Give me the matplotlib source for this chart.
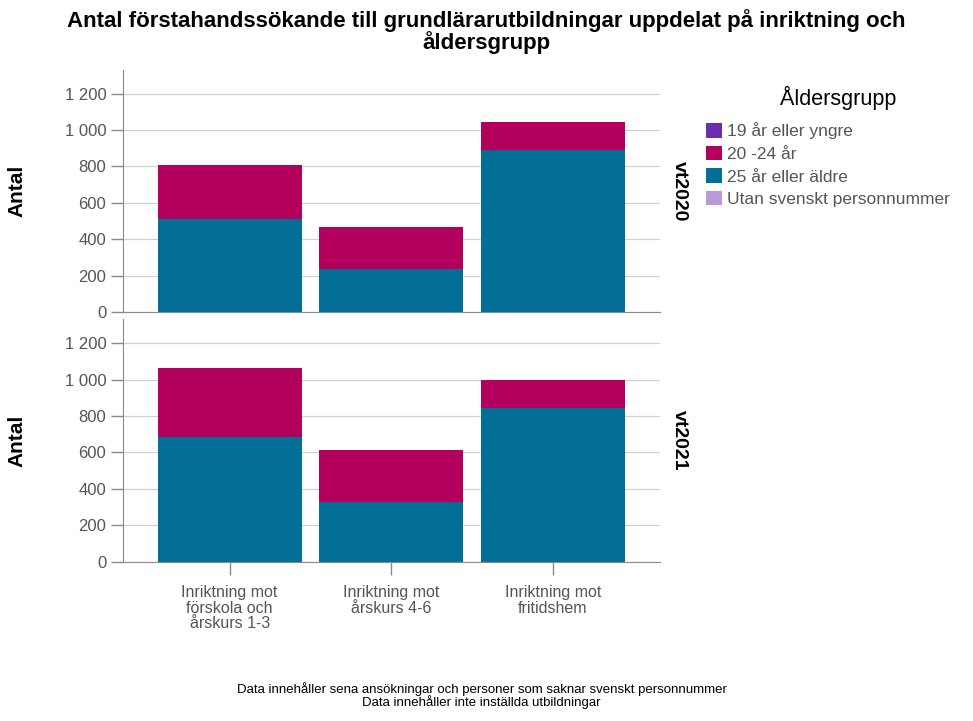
import matplotlib.pyplot as plt
from matplotlib.patches import Patch

plt.rcParams['font.family'] = ['Liberation Sans', 'DejaVu Sans']

categories = ["Inriktning mot\nförskola och\nårskurs 1-3",
              "Inriktning mot\nårskurs 4-6",
              "Inriktning mot\nfritidshem"]
terms = ["vt2020", "vt2021"]
# 25 år eller äldre (bottom) and 20-24 år (top) per term
aldre_25 = {"vt2020": [513, 235, 890], "vt2021": [685, 328, 843]}
yngre_20_24 = {"vt2020": [294, 235, 153], "vt2021": [378, 283, 153]}
legend_labels = ["19 år eller yngre", "20 -24 år", "25 år eller äldre",
                 "Utan svenskt personnummer"]
legend_colors = ["#6a2fb0", "#b3005c", "#036e96", "#b89ad6"]
yticks = [0, 200, 400, 600, 800, 1000, 1200]
ytick_labels = ["0", "200", "400", "600", "800", "1 000", "1 200"]

fig = plt.figure(figsize=(9.73, 7.21), dpi=100)
ax_top = fig.add_axes([0.1264, 0.567, 0.5516, 0.336])
ax_bot = fig.add_axes([0.1264, 0.221, 0.5516, 0.336])

x = list(range(len(categories)))
for ax, term in zip([ax_top, ax_bot], terms):
    ax.set_axisbelow(True)
    ax.grid(axis="y", color="#d0d0d0", linewidth=0.9)
    ax.bar(x, aldre_25[term], width=0.89, color=legend_colors[2])
    ax.bar(x, yngre_20_24[term], width=0.89, bottom=aldre_25[term],
           color=legend_colors[1])
    ax.set_xlim(-0.66, 2.66)
    ax.set_ylim(0, 1330)
    ax.set_yticks(yticks)
    ax.set_yticklabels(ytick_labels)
    for s in ["top", "right"]:
        ax.spines[s].set_visible(False)
    for s in ["left", "bottom"]:
        ax.spines[s].set_color("#8a8a8a")
    ax.tick_params(axis="y", colors="#8a8a8a", labelcolor="#555555",
                   labelsize=12, length=9, width=1, direction="out", pad=3)
    ax.set_ylabel("Antal", fontsize=15, fontweight="bold")
    ax.yaxis.set_label_coords(-0.18, 0.5)
    ax.text(1.02, 0.5, term, transform=ax.transAxes, rotation=-90,
            fontsize=14, fontweight="bold", va="center", ha="left")

ax_top.set_xticks(x)
ax_top.tick_params(axis="x", length=0, labelbottom=False)
ax_bot.set_xticks(x)
ax_bot.set_xticklabels(categories)
ax_bot.tick_params(axis="x", colors="#8a8a8a", labelcolor="#555555",
                   labelsize=11.5, length=9, width=1, pad=8)
for lbl in ax_bot.get_xticklabels():
    lbl.set_linespacing(1.05)

# legend title placed separately to get the spacing of the original
fig.text(0.861, 0.864, "Åldersgrupp", ha="center", va="center",
         fontsize=15.5, fontweight="medium")
handles = [Patch(facecolor=c, edgecolor="none") for c in legend_colors]
leg = fig.legend(handles, legend_labels, loc="upper left",
                 bbox_to_anchor=(0.713, 0.847), frameon=False,
                 fontsize=12.5,
                 handlelength=0.9, handleheight=0.9, handletextpad=0.3,
                 labelspacing=0.37, labelcolor="#555555", borderpad=0.2)

fig.suptitle("Antal förstahandssökande till grundlärarutbildningar uppdelat på inriktning och\nåldersgrupp",
             x=0.5, y=0.987, fontsize=16, fontweight="bold", linespacing=0.95)

fig.text(0.495, 0.035,
         "Data innehåller sena ansökningar och personer som saknar svenskt personnummer\nData innehåller inte inställda utbildningar",
         ha="center", va="center", fontsize=9.5, linespacing=0.95)

fig.savefig("out.png", dpi=100)
